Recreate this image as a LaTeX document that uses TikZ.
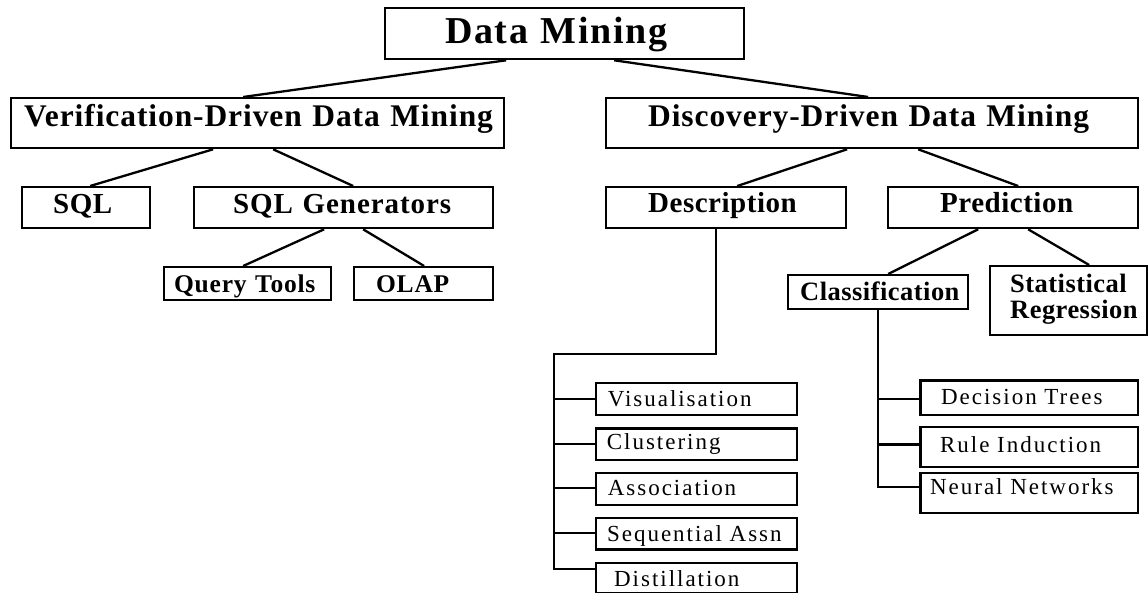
\documentclass[tikz,border=0pt]{standalone}
\usepackage{fontspec}
\setmainfont{Liberation Serif}
\usetikzlibrary{calc}
\newcommand{\fDM}{\fontsize{38}{40}\selectfont\bfseries\addfontfeatures{LetterSpace=4.3}}
\newcommand{\fLv}{\fontsize{31.5}{34}\selectfont\bfseries\addfontfeatures{LetterSpace=2.9}}
\newcommand{\fMid}{\fontsize{29}{30}\selectfont\bfseries\addfontfeatures{LetterSpace=1.8}}
\newcommand{\fMidW}{\fontsize{29}{30}\selectfont\bfseries\addfontfeatures{LetterSpace=3.2}}
\newcommand{\fSm}{\fontsize{25.5}{26}\selectfont\bfseries\addfontfeatures{LetterSpace=3}}
\newcommand{\fCl}{\fontsize{26.5}{26}\selectfont\bfseries\addfontfeatures{LetterSpace=1.8}}
\newcommand{\fLeaf}{\fontsize{23}{24}\selectfont\addfontfeatures{LetterSpace=8.6}}
\tikzset{
  box/.style={draw, line width=2.3pt, inner sep=0pt, anchor=north west, align=left},
  link/.style={line width=2.3pt},
}
\begin{document}
\begin{tikzpicture}[x=1pt,y=-1pt]
\fill[white] (0,0) rectangle (1148,593);
\useasboundingbox (0,0) rectangle (1148,593);
% level 0
\node[box, font=\fDM, text width=359pt, text height=35pt, text depth=16pt] (dm) at (384,7) {\hspace*{60pt}Data Mining};
% level 1
\node[box, font=\fLv, text width=493pt, text height=28pt, text depth=22pt] (ver) at (10,97) {\hspace*{13pt}Verification-Driven Data Mining};
\node[box, font=\fLv, text width=532pt, text height=28pt, text depth=22pt] (dis) at (605,97) {\hspace*{42pt}Discovery-Driven Data Mining};
% level 2
\node[box, font=\fMid, text width=128pt, text height=26pt, text depth=15pt] (sql) at (21,186) {\hspace*{31pt}SQL};
\node[box, font=\fMidW, text width=299pt, text height=26pt, text depth=15pt] (sqlg) at (193,186) {\hspace*{39pt}SQL Generators};
\node[box, font=\fMid, text width=240pt, text height=25pt, text depth=16pt] (desc) at (605,186) {\hspace*{42pt}Description};
\node[box, font=\fMid, text width=250pt, text height=25pt, text depth=16pt] (pred) at (887,186) {\hspace*{52pt}Prediction};
% level 3
\node[box, font=\fSm, text width=167pt, text height=25pt, text depth=8pt] (qt) at (163,266) {\hspace*{10pt}Query Tools};
\node[box, font=\fSm, text width=139pt, text height=25pt, text depth=8pt] (olap) at (353,266) {\hspace*{22pt}OLAP};
\node[box, font=\fCl, text width=180pt, text height=25pt, text depth=9pt] (cls) at (787,274) {\hspace*{12pt}Classification};
\node[box, font=\fCl, text width=157pt, text height=26pt, text depth=43pt] (stat) at (989,265) {\hspace*{20pt}Statistical\\[0pt]\hspace*{20pt}Regression};
% description leaves
\node[box, font=\fLeaf, text width=200.7pt, text height=24pt, text depth=8.3pt] (vis) at (595,381.7) {\hspace*{11.7pt}Visualisation};
\node[box, font=\fLeaf, text width=200.7pt, text height=21pt, text depth=10.7pt] (clu) at (595,427.3) {\hspace*{10.7pt}Clustering};
\node[box, font=\fLeaf, text width=200.7pt, text height=22.6pt, text depth=9.7pt] (ass) at (595,471.7) {\hspace*{11.7pt}Association};
\node[box, font=\fLeaf, text width=200.7pt, text height=23.3pt, text depth=8.3pt] (seq) at (595,516.7) {\hspace*{11pt}Sequential Assn};
\node[box, font=\fLeaf, text width=200.7pt, text height=23.3pt, text depth=6.5pt] (dist) at (595,561.7) {\hspace*{18pt}Distillation};
% classification leaves
\node[box, font=\fLeaf, text width=217.4pt, text height=24pt, text depth=10.7pt] (dt) at (919.3,379.3) {\hspace*{20.7pt}Decision Trees};
\node[box, font=\fLeaf, text width=217.4pt, text height=25pt, text depth=14.7pt] (ri) at (919.3,426) {\hspace*{19.7pt}Rule Induction};
\node[box, font=\fLeaf, text width=217.4pt, text height=21.6pt, text depth=18.4pt] (nn) at (919.3,471.7) {\hspace*{9.7pt}Neural Networks};
% connectors
\draw[link] ([xshift=-58.5pt]dm.south) -- ([xshift=-14.5pt]ver.north);
\draw[link] ([xshift=49.5pt]dm.south) -- ([xshift=-4pt]dis.north);
\draw[link] ([xshift=-44.5pt]ver.south) -- ([xshift=4pt]sql.north);
\draw[link] ([xshift=15.5pt]ver.south) -- ([xshift=9.5pt]sqlg.north);
\draw[link] ([xshift=-19.5pt]sqlg.south) -- ([xshift=-4.5pt]qt.north);
\draw[link] ([xshift=19.5pt]sqlg.south) -- ([xshift=0.5pt]olap.north);
\draw[link] ([xshift=-25pt]dis.south) -- ([xshift=11pt]desc.north);
\draw[link] ([xshift=46pt]dis.south) -- ([xshift=5pt]pred.north);
\draw[link] ([xshift=-35pt]pred.south) -- ([xshift=10pt]cls.north);
\draw[link] ([xshift=15pt]pred.south) -- ([xshift=20.5pt]stat.north);
% description tree
\coordinate (dj) at (554,354);
\draw[link] ([xshift=-10pt]desc.south) |- (dj) |- ([yshift=8.7pt]dist.west);
\draw[link] (vis.west) -- (vis.west -| dj);
\draw[link] (clu.west) -- (clu.west -| dj);
\draw[link] ([yshift=1.2pt]ass.west) -- ([yshift=1.2pt]ass.west -| dj);
\draw[link] ([yshift=0.8pt]seq.west) -- ([yshift=0.8pt]seq.west -| dj);
% classification tree
\draw[link] (cls.south) |- ([yshift=5.7pt]nn.west);
\draw[link] ([yshift=-1pt]dt.west) -- ([yshift=-1pt]dt.west -| cls.south);
\draw[link] ([yshift=2.5pt]ri.west) -- ([yshift=2.5pt]ri.west -| cls.south);
\end{tikzpicture}
\end{document}
